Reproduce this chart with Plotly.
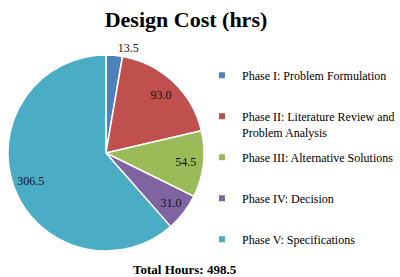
import plotly.graph_objects as go

phases = ["Phase I: Problem Formulation",
          "Phase II: Literature Review and<br>Problem Analysis",
          "Phase III: Alternative Solutions",
          "Phase IV: Decision",
          "Phase V: Specifications"]
hours = [13.5, 93.0, 54.5, 31.0, 306.5]
colors = ["#4F81BD", "#C0504D", "#9BBB59", "#8064A2", "#4BACC6"]
label_pos = ["outside", "inside", "inside", "inside", "inside"]
total_label = "Total Hours: 498.5"
title_text = "Design Cost (hrs)"

FONT = "Liberation Serif"
PIE_DOMAIN = dict(x=[0.02, 0.515], y=[0.09, 0.805])

fig = go.Figure()
# coloured slices
fig.add_trace(go.Pie(
    labels=phases, values=hours, sort=False, direction="clockwise", rotation=0,
    marker=dict(colors=colors, line=dict(color="white", width=1.5)),
    textinfo="none", domain=PIE_DOMAIN,
    showlegend=False, hoverinfo="label+value",
))
# value labels, placed in an outer ring of the same pie
fig.add_trace(go.Pie(
    labels=phases, values=hours, sort=False, direction="clockwise", rotation=0,
    hole=0.64,
    marker=dict(colors=["rgba(0,0,0,0)"] * len(hours), line=dict(width=0)),
    texttemplate="%{value:.1f}", textposition=label_pos,
    insidetextorientation="horizontal",
    textfont=dict(family=FONT, size=12, color="#111"),
    domain=PIE_DOMAIN, showlegend=False, hoverinfo="skip",
))

# legend entries (same categories / colours as the pie)
for i, (name, col) in enumerate(zip(phases, colors)):
    lbl = name if "<br>" in name else name + "<br>\u00a0"
    fig.add_trace(go.Scatter(
        x=[None], y=[None], mode="markers", name=lbl, legendgroup=str(i),
        marker=dict(symbol="square", size=6, color=col),
    ))

fig.update_layout(
    width=400, height=277,
    margin=dict(l=0, r=0, t=0, b=0),
    paper_bgcolor="white", plot_bgcolor="white",
    xaxis=dict(visible=False), yaxis=dict(visible=False),
    title=dict(text="<b>" + title_text + "</b>", x=0.465, xanchor="center",
               y=0.93, yanchor="middle",
               font=dict(family=FONT, size=22, color="#000")),
    legend=dict(x=0.51, xanchor="left", y=0.78, yanchor="top",
                font=dict(family=FONT, size=12, color="#000"),
                tracegroupgap=6.8, valign="top", bgcolor="rgba(0,0,0,0)"),
    annotations=[dict(text="<b>" + total_label + "</b>", x=187/400, y=1-269/277,
                      xref="paper", yref="paper", showarrow=False,
                      xanchor="center", yanchor="middle",
                      font=dict(family=FONT, size=13, color="#000"))],
)

fig.write_html("out.html")
